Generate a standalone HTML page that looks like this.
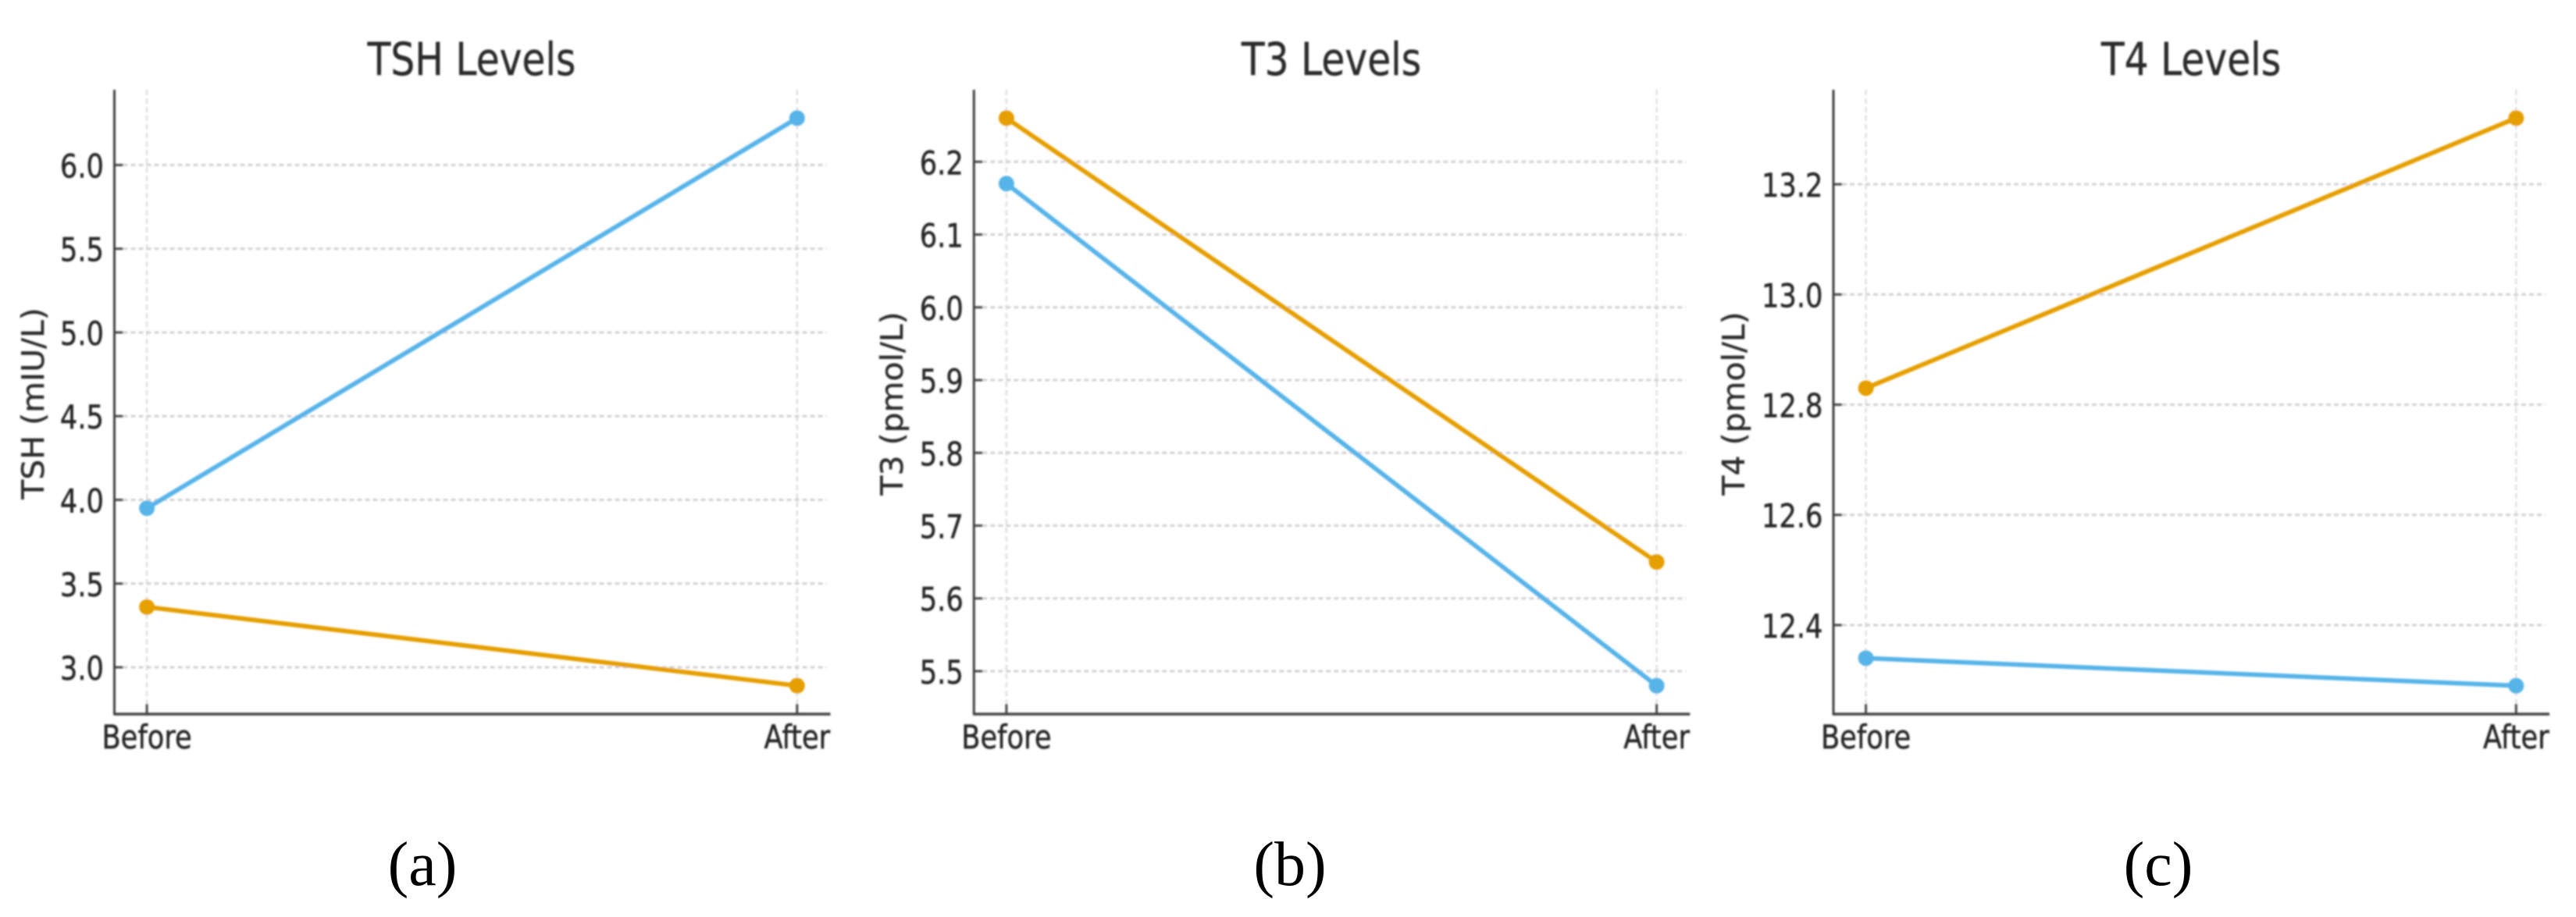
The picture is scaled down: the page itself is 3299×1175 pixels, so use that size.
<!DOCTYPE html>
<html lang="en">
<head>
<meta charset="utf-8">
<title>Thyroid hormone levels before and after</title>
<style>
  html, body { margin: 0; padding: 0; background: #ffffff; }
  body { width: 3299px; height: 1175px; overflow: hidden; }
  svg { display: block; }
  .title { font-family: "DejaVu Sans", "Liberation Sans", sans-serif; font-size: 58px; fill: #2b2b2b; stroke: #2b2b2b; stroke-width: 0.4px; text-anchor: middle; }
  .ylabel { font-family: "DejaVu Sans", "Liberation Sans", sans-serif; font-size: 41px; fill: #2b2b2b; stroke: #2b2b2b; stroke-width: 0.4px; text-anchor: middle; }
  .tick { font-family: "DejaVu Sans", "Liberation Sans", sans-serif; font-size: 41.5px; fill: #262626; stroke: #262626; stroke-width: 0.5px; }
  .caption { font-family: "Liberation Serif", serif; font-size: 80px; fill: #000000; text-anchor: middle; }
</style>
</head>
<body>
<svg id="figure" xmlns="http://www.w3.org/2000/svg" width="3299" height="1175" viewBox="0 0 3299 1175">
  <defs>
    <filter id="soft" x="-5%" y="-5%" width="110%" height="110%">
      <feGaussianBlur stdDeviation="1"/>
    </filter>
  </defs>
  <rect x="0" y="0" width="3299" height="1175" fill="#ffffff"/>

  <g id="panel-a" filter="url(#soft)"></g>
  <g id="panel-b" filter="url(#soft)"></g>
  <g id="panel-c" filter="url(#soft)"></g>

  <g filter="url(#soft)">
    <text class="title" transform="translate(604 96) scale(0.84 1)">TSH Levels</text>
    <text class="title" transform="translate(1705 96) scale(0.84 1)">T3 Levels</text>
    <text class="title" transform="translate(2806 96) scale(0.84 1)">T4 Levels</text>

    <text class="ylabel" transform="translate(56 517) rotate(-90) scale(1 0.96)">TSH (mIU/L)</text>
    <text class="ylabel" transform="translate(1156 517) rotate(-90) scale(1 0.96)">T3 (pmol/L)</text>
    <text class="ylabel" transform="translate(2234 517) rotate(-90) scale(1 0.96)">T4 (pmol/L)</text>
  </g>

  <text class="caption" x="541" y="1134">(a)</text>
  <text class="caption" x="1652" y="1134">(b)</text>
  <text class="caption" x="2764" y="1134">(c)</text>
</svg>

<script>
// Shared category labels
const categories = ['Before', 'After'];

// TSH panel values
const tshBlue = [3.95, 6.28];
const tshOrange = [3.36, 2.89];
const tshTicks = ['3.0', '3.5', '4.0', '4.5', '5.0', '5.5', '6.0'];
const tshDomain = [2.7205, 6.4495];

// T3 panel values
const t3Blue = [6.17, 5.48];
const t3Orange = [6.26, 5.65];
const t3Ticks = ['5.5', '5.6', '5.7', '5.8', '5.9', '6.0', '6.1', '6.2'];
const t3Domain = [5.441, 6.299];

// T4 panel values
const t4Blue = [12.34, 12.29];
const t4Orange = [12.83, 13.32];
const t4Ticks = ['12.4', '12.6', '12.8', '13.0', '13.2'];
const t4Domain = [12.2385, 13.3715];

const SVG_NS = 'http://www.w3.org/2000/svg';
const PLOT_TOP = 115;
const PLOT_BOTTOM = 915;
const PLOT_WIDTH = 917;
const INSET_FIRST = 41.6;
const INSET_LAST = 874.3;
const BLUE = '#56b4e9';
const ORANGE = '#e69f00';

function shape(parent, tag, name, props) {
  const el = document.createElementNS(SVG_NS, tag);
  
  
  Object.keys(props).forEach(function (k) { el.setAttribute(k, props[k]); });
  parent.appendChild(el);
  return el;
}

function drawPanel(opts) {
  const g = document.getElementById(opts.id);
  const left = opts.left;
  const right = left + PLOT_WIDTH;
  const p = opts.prefix;

  const xScale = function (i) {
    return left + INSET_FIRST + (INSET_LAST - INSET_FIRST) * i / (categories.length - 1);
  };
  const yScale = function (v) {
    return PLOT_BOTTOM - (v - opts.domain[0]) / (opts.domain[1] - opts.domain[0]) * (PLOT_BOTTOM - PLOT_TOP);
  };

  // Vertical grid
  categories.forEach(function (c, i) {
    shape(g, 'line', p + '-grid-x-' + c.toLowerCase(), {
      x1: xScale(i), x2: xScale(i), y1: PLOT_TOP, y2: PLOT_BOTTOM,
      stroke: '#dedede', 'stroke-width': 2.4, 'stroke-dasharray': '7 4'
    });
  });

  // Horizontal grid, y ticks and tick labels
  opts.ticks.forEach(function (t) {
    const y = yScale(parseFloat(t));
    shape(g, 'line', p + '-grid-y-' + t, {
      x1: left + 11, x2: right - 5, y1: y, y2: y,
      stroke: '#d2d2d2', 'stroke-width': 3, 'stroke-dasharray': '6 4'
    });
    shape(g, 'line', p + '-y-tick-' + t, {
      x1: left, x2: left + 11, y1: y, y2: y,
      stroke: '#4a4a4a', 'stroke-width': 3
    });
    const label = shape(g, 'text', p + '-y-tick-label-' + t, {
      class: 'tick', 'text-anchor': 'end',
      transform: 'translate(' + (left - 13.5) + ' ' + (y + 16) + ') scale(0.85 1)'
    });
    label.textContent = t;
  });

  // X ticks and labels
  categories.forEach(function (c, i) {
    const x = xScale(i);
    shape(g, 'line', p + '-x-tick-' + c.toLowerCase(), {
      x1: x, x2: x, y1: PLOT_BOTTOM - 13, y2: PLOT_BOTTOM,
      stroke: '#4a4a4a', 'stroke-width': 3
    });
    const label = shape(g, 'text', p + '-x-tick-label-' + c.toLowerCase(), {
      class: 'tick', 'text-anchor': 'middle',
      transform: 'translate(' + x + ' 959) scale(0.85 1)'
    });
    label.textContent = c;
  });

  // Spines
  shape(g, 'line', p + '-y-axis', {
    x1: left, x2: left, y1: PLOT_TOP, y2: PLOT_BOTTOM + 1.5,
    stroke: '#404040', 'stroke-width': 3
  });
  shape(g, 'line', p + '-x-axis', {
    x1: left, x2: right, y1: PLOT_BOTTOM, y2: PLOT_BOTTOM,
    stroke: '#404040', 'stroke-width': 3.5
  });

  // Series
  const series = [
    { name: 'blue', values: opts.blue, color: BLUE },
    { name: 'orange', values: opts.orange, color: ORANGE }
  ];
  series.forEach(function (s) {
    const pts = s.values.map(function (v, i) { return xScale(i) + ',' + yScale(v); }).join(' ');
    shape(g, 'polyline', p + '-line-' + s.name, {
      points: pts, fill: 'none', stroke: s.color, 'stroke-width': 5.8
    });
    s.values.forEach(function (v, i) {
      shape(g, 'circle', p + '-point-' + s.name + '-' + categories[i].toLowerCase(), {
        cx: xScale(i), cy: yScale(v), r: 10, fill: s.color
      });
    });
  });
}

drawPanel({ id: 'panel-a', prefix: 'tsh', left: 146.5, domain: tshDomain, ticks: tshTicks, blue: tshBlue, orange: tshOrange });
drawPanel({ id: 'panel-b', prefix: 't3', left: 1247.3, domain: t3Domain, ticks: t3Ticks, blue: t3Blue, orange: t3Orange });
drawPanel({ id: 'panel-c', prefix: 't4', left: 2348, domain: t4Domain, ticks: t4Ticks, blue: t4Blue, orange: t4Orange });
</script>
</body>
</html>
